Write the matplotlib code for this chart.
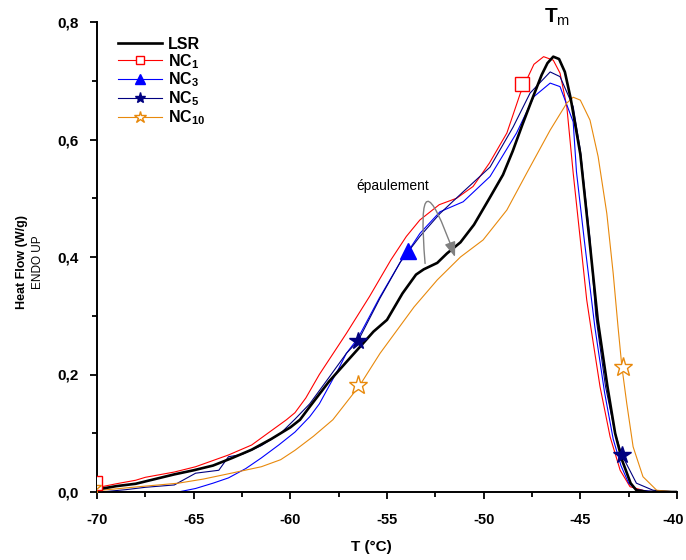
import matplotlib
matplotlib.use("Agg")
import matplotlib.pyplot as plt
import matplotlib.transforms as mtransforms
from matplotlib.lines import Line2D

plt.rcParams.update({
    'font.family': 'Liberation Sans',
    'mathtext.fontset': 'custom',
    'mathtext.rm': 'Liberation Sans',
    'mathtext.bf': 'Liberation Sans:bold',
    'mathtext.it': 'Liberation Sans:italic',
})

# --- data ---
lsr_T = [-69.7, -69.0, -68.0, -67.0, -66.0, -65.0, -64.0, -63.0, -62.0, -61.0,
         -60.0, -59.5, -59.0, -58.0, -57.0, -56.4, -55.7, -55.0, -54.2, -53.5,
         -53.1, -52.4, -51.9, -51.2, -50.5, -49.7, -49.0, -48.5, -48.0, -47.5,
         -47.0, -46.7, -46.4, -46.1, -45.8, -45.5, -45.0, -44.5, -44.1, -43.6,
         -43.2, -42.85, -42.4, -42.1, -41.5, -40.0]
lsr_HF = [0.006, 0.010, 0.014, 0.022, 0.030, 0.037, 0.045, 0.058, 0.072, 0.090,
          0.110, 0.123, 0.145, 0.188, 0.225, 0.247, 0.273, 0.293, 0.338, 0.370,
          0.379, 0.390, 0.406, 0.425, 0.455, 0.500, 0.540, 0.580, 0.625, 0.668,
          0.710, 0.730, 0.741, 0.737, 0.715, 0.670, 0.575, 0.420, 0.293, 0.180,
          0.100, 0.055, 0.015, 0.003, 0.0, 0.0]

nc1_T = [-70.08, -69.76, -69.0, -68.0, -67.5, -66.0, -64.9, -63.2, -62.0, -61.5,
         -60.2, -59.76, -59.2, -58.5, -57.1, -55.9, -54.8, -54.0, -53.3, -52.3, -51.4,
         -50.55, -49.7, -48.8, -48.1, -47.4, -46.9, -46.4, -46.05, -45.7, -45.37,
         -45.0, -44.67, -44.46, -43.98, -43.46, -42.94, -42.43, -41.56, -40.0]
nc1_HF = [0.015, 0.009, 0.014, 0.020, 0.025, 0.034, 0.043, 0.063, 0.080, 0.092,
          0.123, 0.135, 0.160, 0.200, 0.270, 0.333, 0.395, 0.435, 0.463, 0.489, 0.500,
          0.520, 0.560, 0.611, 0.679, 0.728, 0.741, 0.735, 0.713, 0.656, 0.543,
          0.429, 0.327, 0.281, 0.179, 0.094, 0.037, 0.009, 0.001, 0.0]

nc3_T = [-69.8, -65.8, -64.9, -64.0, -63.2, -62.3, -61.5, -60.6, -59.76, -59.0,
         -58.5, -57.5, -57.1, -56.5, -55.4, -54.3, -53.9, -53.3, -52.26, -51.06,
         -49.67, -48.3, -47.4, -46.56, -46.05, -45.37, -45.2, -44.8, -44.25, -43.75,
         -43.3, -42.9, -42.5, -42.1, -41.0, -40.0]
nc3_HF = [0.0, 0.0, 0.006, 0.015, 0.024, 0.040, 0.058, 0.080, 0.102, 0.128,
          0.150, 0.210, 0.236, 0.262, 0.330, 0.392, 0.410, 0.440, 0.477, 0.494,
          0.537, 0.611, 0.673, 0.696, 0.690, 0.630, 0.545, 0.430, 0.281, 0.170,
          0.090, 0.045, 0.015, 0.004, 0.0, 0.0]

nc5_T = [-69.8, -68.5, -67.5, -66.0, -64.9, -63.7, -63.2, -62.5, -61.5, -60.5,
         -59.76, -59.0, -58.0, -57.1, -56.5, -55.36, -54.3, -53.3, -52.26, -51.06,
         -49.67, -48.48, -47.6, -46.56, -46.05, -45.37, -45.0, -44.5, -44.2, -43.7,
         -43.2, -42.85, -42.1, -41.24, -40.0]
nc5_HF = [0.0, 0.004, 0.008, 0.012, 0.032, 0.037, 0.060, 0.064, 0.079, 0.100,
          0.124, 0.150, 0.195, 0.236, 0.257, 0.330, 0.392, 0.435, 0.474, 0.511,
          0.553, 0.621, 0.679, 0.715, 0.707, 0.656, 0.582, 0.430, 0.300, 0.180,
          0.100, 0.063, 0.015, 0.003, 0.0]

nc10_T = [-70.25, -69.76, -68.5, -67.5, -65.8, -64.5, -63.2, -61.5, -60.5, -59.76,
          -58.8, -57.8, -56.4, -55.36, -53.6, -52.4, -51.2, -50.03, -48.8, -47.77,
          -46.56, -45.7, -45.37, -45.0, -44.5, -44.08, -43.63, -43.3, -43.05, -42.85,
          -42.6, -42.27, -41.76, -41.05, -40.0]
nc10_HF = [0.006, 0.003, 0.007, 0.010, 0.015, 0.022, 0.031, 0.043, 0.055, 0.071,
           0.095, 0.123, 0.182, 0.236, 0.315, 0.361, 0.400, 0.429, 0.480, 0.543,
           0.616, 0.662, 0.672, 0.667, 0.633, 0.571, 0.474, 0.372, 0.281, 0.213,
           0.151, 0.077, 0.026, 0.003, 0.0]

# symbol positions
nc1_mk_T, nc1_mk_HF = [-70.08, -48.0], [0.015, 0.695]
nc3_mk_T, nc3_mk_HF = [-53.9], [0.410]
nc5_mk_T, nc5_mk_HF = [-56.5, -42.85], [0.257, 0.063]
nc10_mk_T, nc10_mk_HF = [-70.25, -56.5, -42.8], [0.006, 0.182, 0.213]

x_ticks = [-70, -65, -60, -55, -50, -45, -40]
x_ticklabels = ['-70', '-65', '-60', '-55', '-50', '-45', '-40']
y_ticks = [0.0, 0.2, 0.4, 0.6, 0.8]
y_ticklabels = ['0,0', '0,2', '0,4', '0,6', '0,8']

red, blue, navy, orange = '#ff0000', '#0000ff', '#000080', '#e8890c'

fig = plt.figure(figsize=(6.86, 5.6), dpi=100)
ax = fig.add_axes([97 / 686, 68 / 560, 580 / 686, 470 / 560])

ax.plot(nc1_T, nc1_HF, color=red, lw=0.8)
ax.plot(nc3_T, nc3_HF, color=blue, lw=0.8)
ax.plot(nc5_T, nc5_HF, color=navy, lw=0.8)
ax.plot(nc10_T, nc10_HF, color=orange, lw=0.8)
ax.plot(lsr_T, lsr_HF, color='black', lw=1.9, zorder=3)

ax.plot(nc1_mk_T, nc1_mk_HF, ls='none', marker='s', ms=9.5, mfc='white', mec=red, mew=1.0, zorder=4)
ax.plot(nc3_mk_T, nc3_mk_HF, ls='none', marker='^', ms=12, mfc=blue, mec=blue, zorder=4)
ax.plot(nc5_mk_T, nc5_mk_HF, ls='none', marker='*', ms=13, mfc=navy, mec=navy, zorder=4)
ax.plot(nc10_mk_T, nc10_mk_HF, ls='none', marker='*', ms=14, mfc='white', mec=orange, mew=1.0, zorder=4)

ax.set_xlim(-70, -40)
ax.set_ylim(0, 0.8)
ax.set_xticks(x_ticks, labels=x_ticklabels, fontweight='bold', fontsize=10.5)
ax.set_yticks(y_ticks, labels=y_ticklabels, fontweight='bold', fontsize=11)
ax.set_xticks([-67.5, -62.5, -57.5, -52.5, -47.5, -42.5], minor=True)
ax.set_yticks([0.1, 0.3, 0.5, 0.7], minor=True)
ax.tick_params(which='major', direction='out', length=5, width=1.3, pad=8)
ax.tick_params(which='minor', direction='out', length=3.5, width=1.3)
ax.tick_params(axis='x', which='major', pad=10)
for s in ['top', 'right']:
    ax.spines[s].set_visible(False)
for s in ['left', 'bottom']:
    ax.spines[s].set_linewidth(1.4)
# nudge the last x label so it stays inside the figure
last = ax.get_xticklabels()[-1]
last.set_transform(last.get_transform() + mtransforms.ScaledTranslation(-4 / 100, 0, fig.dpi_scale_trans))

# axis labels
fig.text(371 / 686, 1 - 547 / 560, 'T (°C)', ha='center', va='center',
         fontsize=11, fontweight='bold')
fig.text(22 / 686, 1 - 262 / 560, 'Heat Flow (W/g)', rotation=90, ha='center',
         va='center', fontsize=9, fontweight='bold')
fig.text(38 / 686, 1 - 262 / 560, 'ENDO UP', rotation=90, ha='center',
         va='center', fontsize=8.5)

ax.text(-46.2, 0.808, r'$\mathbf{T}_{\mathrm{m}}$', ha='center', va='center',
        fontsize=15, clip_on=False)

ax.text(-54.69, 0.521, 'épaulement', ha='center', va='center', fontsize=10)
ax.annotate('', xy=(-51.48, 0.400), xytext=(-53.03, 0.389),
            arrowprops=dict(arrowstyle='-|>,head_length=0.6,head_width=0.22',
                            mutation_scale=15, color='#808080', lw=1.0,
                            connectionstyle='arc3,rad=-3.9', shrinkA=0, shrinkB=0))

handles = [
    Line2D([], [], color='black', lw=1.9),
    Line2D([], [], color=red, lw=0.8, marker='s', ms=6, mfc='white', mec=red),
    Line2D([], [], color=blue, lw=0.8, marker='^', ms=7, mfc=blue, mec=blue),
    Line2D([], [], color=navy, lw=0.8, marker='*', ms=8, mfc=navy, mec=navy),
    Line2D([], [], color=orange, lw=0.8, marker='*', ms=9, mfc='white', mec=orange),
]
labels = ['LSR', r'NC$_{\mathbf{1}}$', r'NC$_{\mathbf{3}}$', r'NC$_{\mathbf{5}}$', r'NC$_{\mathbf{10}}$']
ax.legend(handles, labels, loc='upper left', bbox_to_anchor=(0.036, 0.968),
          frameon=False, borderpad=0, borderaxespad=0, handlelength=2.75,
          handletextpad=0.4, labelspacing=0.0,
          prop={'weight': 'bold', 'size': 11.5})

fig.savefig('out.png', dpi=100)
